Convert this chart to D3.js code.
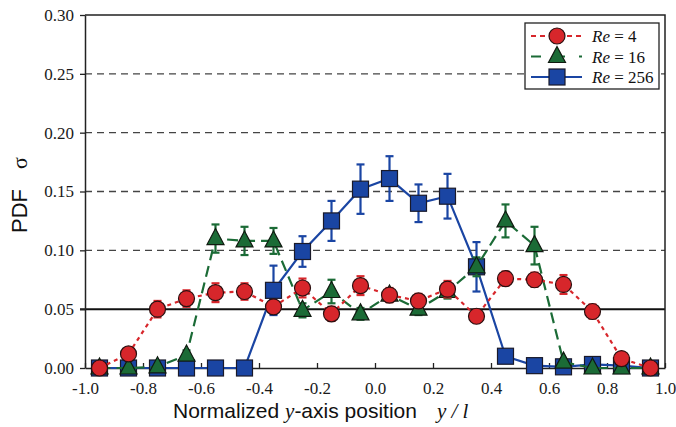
<!DOCTYPE html>
<html>
<head>
<meta charset="utf-8">
<script src="https://cdn.jsdelivr.net/npm/d3@7/dist/d3.min.js"></script>
<style>
  body { margin: 0; background: #fff; }
  svg { display: block; }
</style>
</head>
<body>
<svg id="chart" width="676" height="427"></svg>
<script>
// positions along y / l (bin centres)
const positions = [-0.95, -0.85, -0.75, -0.65, -0.55, -0.45, -0.35, -0.25, -0.15, -0.05,
                   0.05, 0.15, 0.25, 0.35, 0.45, 0.55, 0.65, 0.75, 0.85, 0.95];

const re4 = [0.000, 0.012, 0.050, 0.059, 0.064, 0.065, 0.052, 0.068, 0.046, 0.070,
             0.062, 0.057, 0.067, 0.044, 0.076, 0.075, 0.071, 0.048, 0.008, 0.000];
const re4Err = [0, 0, 0.007, 0.007, 0.008, 0.007, 0.005, 0.008, 0.006, 0.008,
                0.006, 0.006, 0.007, 0.005, 0.006, 0.006, 0.008, 0.006, 0, 0];

const re16 = [0.000, 0.000, 0.001, 0.011, 0.110, 0.108, 0.108, 0.049, 0.065, 0.046,
              0.062, 0.050, 0.065, 0.086, 0.125, 0.104, 0.005, 0.000, 0.000, 0.000];
const re16Err = [0, 0, 0, 0.004, 0.012, 0.012, 0.011, 0.006, 0.010, 0.005,
                 0.005, 0.005, 0.006, 0.008, 0.014, 0.016, 0, 0, 0, 0];

const re256 = [0.000, 0.000, 0.000, 0.000, 0.000, 0.000, 0.066, 0.099, 0.125, 0.152,
               0.161, 0.140, 0.146, 0.086, 0.010, 0.002, 0.001, 0.003, 0.002, 0.000];
const re256Err = [0, 0, 0, 0, 0, 0, 0.021, 0.013, 0.017, 0.021,
                  0.019, 0.016, 0.019, 0.021, 0.004, 0, 0, 0, 0, 0];

const xTicks = [-1.0, -0.8, -0.6, -0.4, -0.2, 0.0, 0.2, 0.4, 0.6, 0.8, 1.0];
const yTicks = [0.00, 0.05, 0.10, 0.15, 0.20, 0.25, 0.30];
const dashedLevels = [0.10, 0.15, 0.20, 0.25];
const solidLevel = 0.05;

const series = [
  {name: "256", values: re256, err: re256Err, color: "#1a45a3", dash: null, marker: "square"},
  {name: "16", values: re16, err: re16Err, color: "#1b6b36", dash: "11,6", marker: "triangle"},
  {name: "4", values: re4, err: re4Err, color: "#d7262b", dash: "4,4", marker: "circle"}
];

const svg = d3.select("#chart");
const plot = {left: 85, right: 665, top: 15, bottom: 368};

const x = d3.scaleLinear().domain([-1, 1]).range([plot.left, plot.right]);
const y = d3.scaleLinear().domain([0, 0.3]).range([plot.bottom, plot.top]);

const serif = "'Liberation Serif', 'Times New Roman', serif";
const sans = "'Liberation Sans', Arial, Helvetica, sans-serif";

// plain hyphen for negatives, like the original
const fmt1 = d => d3.format(".1f")(d).replace("−", "-");
const fmt2 = d => d3.format(".2f")(d);

// grid lines
svg.append("g").selectAll("line")
  .data(dashedLevels)
  .join("line")
  .attr("x1", plot.left).attr("x2", plot.right)
  .attr("y1", d => y(d)).attr("y2", d => y(d))
  .attr("stroke", "#444").attr("stroke-width", 1.3)
  .attr("stroke-dasharray", "7,5");

svg.append("line")
  .attr("x1", plot.left - 5).attr("x2", plot.right)
  .attr("y1", y(solidLevel)).attr("y2", y(solidLevel))
  .attr("stroke", "#111").attr("stroke-width", 2);

// axes
const xAxis = svg.append("g")
  .attr("transform", "translate(0," + plot.bottom + ")")
  .call(d3.axisBottom(x).tickValues(xTicks).tickSizeInner(-5).tickSizeOuter(0).tickPadding(14)
        .tickFormat(fmt1));
xAxis.selectAll("text").attr("font-family", serif).attr("font-size", 17).attr("fill", "#1a1a1a");

const yAxis = svg.append("g")
  .attr("transform", "translate(" + plot.left + ",0)")
  .call(d3.axisLeft(y).tickValues(yTicks).tickSizeInner(5).tickSizeOuter(0).tickPadding(6)
        .tickFormat(fmt2));
yAxis.selectAll("text").attr("font-family", serif).attr("font-size", 17).attr("fill", "#1a1a1a");
svg.selectAll(".domain").attr("stroke", "#222").attr("stroke-width", 1.5);
svg.selectAll(".tick line").attr("stroke", "#222").attr("stroke-width", 1.3);

// top and right frame
svg.append("path")
  .attr("d", "M" + plot.left + "," + plot.top + "H" + plot.right + "V" + plot.bottom)
  .attr("fill", "none").attr("stroke", "#222").attr("stroke-width", 1.5);

function drawMarker(g, kind, cx, cy, color) {
  if (kind === "circle") {
    g.append("circle").attr("cx", cx).attr("cy", cy).attr("r", 8)
      .attr("fill", color).attr("stroke", "#2a1010").attr("stroke-width", 1.2);
  } else if (kind === "square") {
    g.append("rect").attr("x", cx - 8).attr("y", cy - 8).attr("width", 16).attr("height", 16)
      .attr("fill", color).attr("stroke", "#1a1a2a").attr("stroke-width", 1.2);
  } else {
    g.append("path")
      .attr("d", "M" + cx + "," + (cy - 10) + "L" + (cx + 8.5) + "," + (cy + 6) + "L" + (cx - 8.5) + "," + (cy + 6) + "Z")
      .attr("fill", color).attr("stroke", "#101a10").attr("stroke-width", 1.2);
  }
}

const line = d3.line().x(d => x(d[0])).y(d => y(d[1]));

series.forEach(s => {
  const pts = positions.map((p, i) => [p, s.values[i], s.err[i]]);
  const g = svg.append("g");

  g.append("path")
    .attr("d", line(pts))
    .attr("fill", "none").attr("stroke", s.color).attr("stroke-width", 2.2)
    .attr("stroke-dasharray", s.dash);

  const eb = g.append("g").attr("stroke", s.color).attr("stroke-width", 2.2);
  pts.filter(d => d[2] > 0).forEach(d => {
    const cx = x(d[0]);
    eb.append("line").attr("x1", cx).attr("x2", cx).attr("y1", y(d[1] - d[2])).attr("y2", y(d[1] + d[2]));
    eb.append("line").attr("x1", cx - 4).attr("x2", cx + 4).attr("y1", y(d[1] - d[2])).attr("y2", y(d[1] - d[2]));
    eb.append("line").attr("x1", cx - 4).attr("x2", cx + 4).attr("y1", y(d[1] + d[2])).attr("y2", y(d[1] + d[2]));
  });

  pts.forEach(d => drawMarker(g, s.marker, x(d[0]), y(d[1]), s.color));
});

// legend
const lg = svg.append("g");
lg.append("rect").attr("x", 525).attr("y", 23).attr("width", 134).attr("height", 66)
  .attr("fill", "#fff").attr("stroke", "#222").attr("stroke-width", 1.3);
const legendOrder = [series[2], series[1], series[0]];
legendOrder.forEach((s, i) => {
  const cy = 36 + i * 20.5;
  lg.append("line").attr("x1", 531).attr("x2", 582).attr("y1", cy).attr("y2", cy)
    .attr("stroke", s.color).attr("stroke-width", 2)
    .attr("stroke-dasharray", s.dash ? (s.marker === "circle" ? "5,4" : "10,14") : null);
  drawMarker(lg, s.marker, 557, cy, s.color);
  const t = lg.append("text").attr("x", 592).attr("y", cy + 6)
    .attr("font-family", serif).attr("font-size", 17).attr("fill", "#111");
  t.append("tspan").attr("font-style", "italic").text("Re");
  t.append("tspan").text(" = " + s.name);
});

// axis titles
const xt = svg.append("text").attr("x", 173).attr("y", 418)
  .attr("font-family", sans).attr("font-size", 21).attr("fill", "#111");
xt.append("tspan").text("Normalized ");
xt.append("tspan").attr("font-family", serif).attr("font-style", "italic").text("y");
xt.append("tspan").text("-axis position");
xt.append("tspan").attr("dx", 20).attr("font-family", serif).attr("font-style", "italic").text("y / l");

const yt = svg.append("text").attr("transform", "translate(27,233) rotate(-90)")
  .attr("font-family", sans).attr("font-size", 22).attr("fill", "#111");
yt.append("tspan").text("PDF");
yt.append("tspan").attr("dx", 20).attr("font-family", serif).text("σ");
</script>
</body>
</html>
